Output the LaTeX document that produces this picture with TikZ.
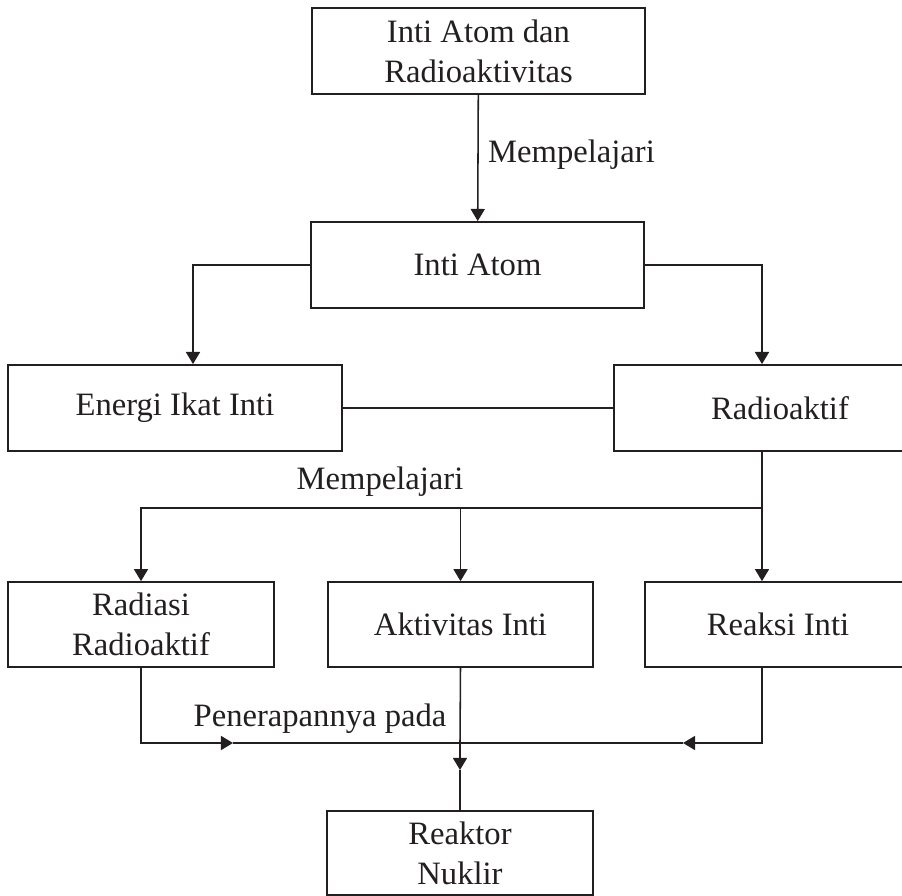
\documentclass[tikz,border=0pt]{standalone}
\usepackage{fontspec}
\setmainfont{Liberation Serif}
\usepackage{xcolor}
\usetikzlibrary{arrows.meta,calc}
\definecolor{inkblack}{HTML}{231F20}

\begin{document}
\begin{tikzpicture}[
  x=0.0125cm, y=-0.0125cm,
  font=\fontsize{11.6}{14.2}\selectfont,
  box/.style={draw=inkblack,line width=0.65pt,align=center,text=inkblack,inner sep=0pt},
  widebox/.style={box,minimum width=4.16cm,minimum height=1.075cm},
  smallbox/.style={box,minimum width=3.32cm,minimum height=1.06cm},
  arrow/.style={-{Triangle[length=4.3pt,width=5pt]},line width=0.55pt,draw=inkblack},
  link/.style={line width=0.55pt,draw=inkblack},
  tag/.style={text=inkblack}
]
\clip (0,0) rectangle (902,896);
\node[widebox] (topic) at (478.5,51) {Inti Atom dan\\Radioaktivitas};
\node[widebox] (nucleus) at (477.5,265) {Inti Atom};
\node[widebox,minimum width=4.175cm] (binding) at (175,408) {Energi Ikat Inti};
\node[widebox,minimum width=4.15cm] (radioact) at (780,408) {Radioaktif};
\node[smallbox] (radiation) at (141,624.5) {Radiasi\\Radioaktif};
\node[smallbox] (activity) at (460.5,624.5) {Aktivitas Inti};
\node[smallbox] (reaction) at (778,624.5) {Reaksi Inti};
\node[smallbox,minimum height=1.05cm] (reactor) at (460,853) {Reaktor\\Nuklir};
\node[tag] (study) at (380,482) {Mempelajari};
\node[tag] (apply) at (320,719) {Penerapannya pada};

\coordinate (split) at (762,508);
\coordinate (merge) at (460,743);
\coordinate (leftin) at (233,743);
\coordinate (rightin) at (683,743);
\coordinate (downin) at (460,770);

\draw[arrow] (topic) -- node[tag,right=0pt,pos=0.47]{Mempelajari} (nucleus);
\draw[arrow] (nucleus.west) -| ($(binding.north)+(18,0)$);
\draw[arrow] (nucleus.east) -| ($(radioact.north)+(-18,0)$);
\draw[link] (binding) -- (radioact);
\draw[arrow] ($(radioact.south)+(-18,0)$) -- ($(reaction.north)+(-16,0)$);
\draw[arrow] (split) -| (radiation.north);
\draw[arrow] (split -| activity.north) -- (activity.north);
% bottom merge
\draw[arrow] (radiation.south) |- (leftin);
\draw[link] (leftin) -- (merge);
\draw[arrow] ($(reaction.south)+(-16,0)$) |- (rightin);
\draw[link] (rightin) -- (merge);
\draw[link] (activity.south) -- (merge);
\draw[arrow] (merge) -- (downin);
\draw[link] (downin) -- (reactor.north);
\end{tikzpicture}
\end{document}
